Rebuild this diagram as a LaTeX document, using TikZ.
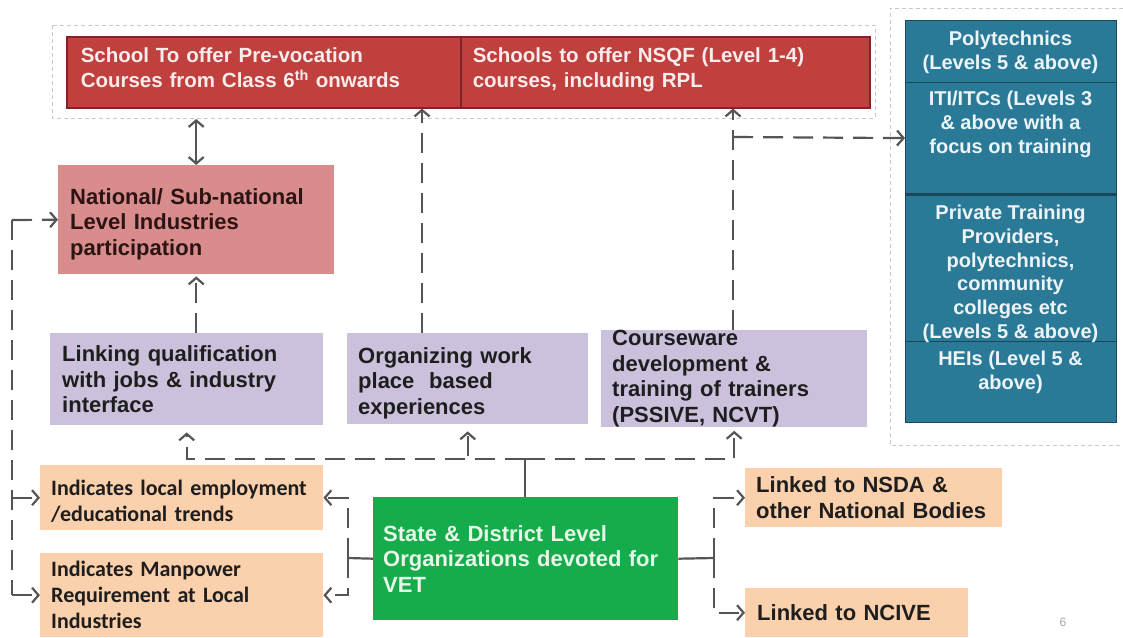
\documentclass[tikz,border=0pt]{standalone}
\usepackage{fontspec}
\setmainfont{Liberation Sans}
\newfontfamily\calfont{Carlito}
\usetikzlibrary{arrows.meta}

\definecolor{redfill}{RGB}{192,64,62}
\definecolor{redline}{RGB}{125,38,38}
\definecolor{redtext}{RGB}{250,236,236}
\definecolor{pinkfill}{RGB}{216,140,140}
\definecolor{pinktext}{RGB}{45,20,20}
\definecolor{purpfill}{RGB}{204,193,221}
\definecolor{orfill}{RGB}{251,208,172}
\definecolor{grfill}{RGB}{22,172,76}
\definecolor{grtext}{RGB}{232,246,234}
\definecolor{tealfill}{RGB}{42,122,151}
\definecolor{tealline}{RGB}{26,72,90}
\definecolor{tealtext}{RGB}{236,244,248}
\definecolor{arrowc}{RGB}{85,85,85}
\definecolor{framec}{RGB}{200,200,200}
\definecolor{darktext}{RGB}{30,30,30}

% struts that move a text block up or down inside a fixed-size box
\newcommand{\liftby}[1]{\rule[-#1]{0pt}{0pt}}
\newcommand{\dropby}[1]{\rule{0pt}{#1}}

\begin{document}
\begin{tikzpicture}[x=1pt,y=-1pt,
  box/.style={anchor=north west, inner ysep=0pt, align=left, text=darktext,
    font=\bfseries\fontsize{22}{25.5}\selectfont},
  calbox/.style={box, font=\calfont\bfseries\fontsize{22}{26}\selectfont},
  sec/.style={anchor=north west, minimum width=211pt, inner sep=0pt,
    fill=tealfill, draw=tealline, line width=1.2pt},
  sectext/.style={anchor=north, inner sep=0pt, align=center, text=tealtext,
    font=\bfseries\fontsize{20}{23.7}\selectfont},
  cn/.style={draw=arrowc, line width=2.2pt},
  dl/.style={cn, dash pattern=on 20pt off 10pt},
  arr/.style={-{Straight Barb[length=6.5pt,width=15pt]}},
  frame/.style={draw=framec, line width=0.9pt, dash pattern=on 4pt off 3pt}
]
\useasboundingbox (0,0) rectangle (1123,637);

% dashed outlines
\draw[frame] (52,25) rectangle (875,118);
\draw[frame] (1123,8) -- (890,8) -- (890,445) -- (1123,445);

% top: school level offers
\node[box, fill=redfill, draw=redline, line width=1.5pt, text=redtext,
  minimum width=394pt, minimum height=71pt, inner xsep=14pt, text width=366pt,
  font=\bfseries\fontsize{20.5}{25}\selectfont] (redL) at (66,36)
  {School To offer Pre-vocation\\Courses from Class 6\textsuperscript{th} onwards\liftby{9pt}};
\node[box, fill=redfill, draw=redline, line width=1.5pt, text=redtext,
  minimum width=409pt, minimum height=71pt, inner xsep=12pt, text width=385pt,
  font=\bfseries\fontsize{20.5}{25}\selectfont] (redR) at (460,36)
  {Schools to offer NSQF (Level 1-4)\\courses, including RPL\liftby{9pt}};

% industry participation
\node[box, fill=pinkfill, text=pinktext, minimum width=276pt, minimum height=109pt,
  inner xsep=12pt, text width=252pt] (pink) at (58,165)
  {\dropby{25pt}National/ Sub-national\\Level Industries\\participation};

% middle row
\node[box, fill=purpfill, minimum width=273pt, minimum height=92pt,
  inner xsep=12pt, text width=249pt] (p1) at (50,333)
  {Linking qualification\\with jobs \& industry\\interface};
\node[box, fill=purpfill, minimum width=241pt, minimum height=91pt,
  inner xsep=11pt, text width=219pt] (p2) at (347,333)
  {\dropby{25pt}Organizing work\\place\ \ based\\experiences};
\node[box, fill=purpfill, minimum width=266pt, minimum height=96pt,
  inner xsep=11pt, text width=244pt] (p3) at (601,330)
  {Courseware\\development \&\\training of trainers\\(PSSIVE, NCVT)};

% bottom row
\node[calbox, fill=orfill, minimum width=283pt, minimum height=65pt,
  inner xsep=11pt, text width=261pt] (o1) at (40,465)
  {\dropby{23pt}Indicates local employment\\/educational trends};
\node[calbox, fill=orfill, minimum width=283pt, minimum height=84pt,
  inner xsep=11pt, text width=261pt] (o2) at (40,553)
  {Indicates Manpower\\Requirement at Local\\Industries};
\node[box, fill=grfill, text=grtext, minimum width=305pt, minimum height=123pt,
  inner xsep=10pt, text width=285pt] (green) at (373,497)
  {State \& District Level\\Organizations devoted for\\VET};
\node[box, fill=orfill, minimum width=257pt, minimum height=59pt,
  inner xsep=11pt, text width=235pt] (nsda) at (745,468)
  {Linked to NSDA \&\\other National Bodies};
\node[box, fill=orfill, minimum width=223pt, minimum height=49pt,
  inner xsep=12pt, text width=199pt] (ncive) at (745,588)
  {Linked to NCIVE};

% higher level institutions
\node[sec, minimum height=62pt] (t1) at (905,20) {};
\node[sec, minimum height=111pt] (t2) at (905,82) {};
\node[sec, minimum height=148pt] (t3) at (905,193) {};
\node[sec, minimum height=81pt] (t4) at (905,341) {};
\draw[tealline, line width=3pt] (t2.south west) -- (t2.south east);
\node[sectext] (t1x) at (1010.5,31) {Polytechnics\\(Levels 5 \& above)};
\node[sectext] (t2x) at (1010.5,91) {ITI/ITCs (Levels 3\\\& above with a\\focus on training};
\node[sectext] (t3x) at (1010.5,205) {Private Training\\Providers,\\polytechnics,\\community\\colleges etc\\(Levels 5 \& above)};
\node[sectext] (t4x) at (1010.5,351) {HEIs (Level 5 \&\\above)};

\node[text=black!35, font=\fontsize{12}{14}\selectfont] (pg) at (1063,622) {6};

% connectors
\draw[cn, {Straight Barb[length=6.5pt,width=15pt]}-{Straight Barb[length=6.5pt,width=15pt]}]
  (pink.north |- 0,119) -- (pink.north);
\draw[dl, arr, shorten >=2pt] (p1.north -| pink.south) -- (pink.south);
\coordinate (j2) at (422,333);
\draw[dl, arr] (j2) -- (redL.south -| j2);
\coordinate (j3) at (733,137);
\draw[dl, arr] (p3.north -| j3) -- (redR.south -| j3);
\draw[dl, arr] (j3) -- (t2.west);

% bus from the state organisations up to the middle row
\coordinate (bus) at (525,459);
\draw[cn] (green.north -| bus) -- (bus);
\draw[dl, arr, shorten >=7pt] (bus) -| (p1.south);
\draw[dl, arr, shorten >=7pt] (bus) -| (p2.south);
\draw[dl, arr, shorten >=4pt] (bus) -| (p3.south);

% left spine
\coordinate (spT) at (12,220);
\draw[dl] (spT) -- (spT |- o2.west);
\draw[dl, arr] (spT) -- (pink.west);
\draw[dl, arr] (spT |- o1.west) -- (o1.west);
\draw[dl, arr] (spT |- o2.west) -- (o2.west);

% local indicators
\coordinate (gl) at (348,558);
\draw[cn] (green.west) -- (gl);
\draw[dl, arr] (gl) |- (o1.east);
\draw[dl, arr] (gl) |- (o2.east);

% national links
\coordinate (gr) at (714,558);
\draw[cn] (green.east) -- (gr);
\draw[dl, arr] (gr) |- (nsda.west);
\draw[dl, arr] (gr) |- (ncive.west);
\end{tikzpicture}
\end{document}
